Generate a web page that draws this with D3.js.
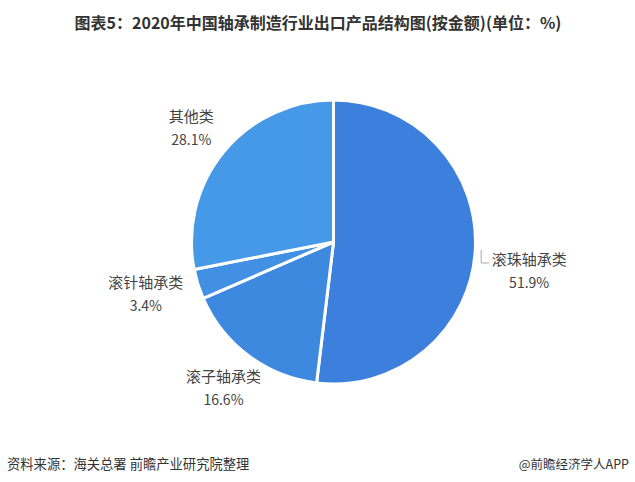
<!DOCTYPE html>
<html><head><meta charset="utf-8">
<script src="https://cdn.jsdelivr.net/npm/d3@7"></script>
<style>
html,body{margin:0;padding:0;background:#fff;}
svg{display:block;font-family:"Microsoft YaHei","Noto Sans CJK SC",sans-serif;}
</style></head>
<body>
<svg id="c" width="635" height="482"></svg>
<script>
const categories = ["滚珠轴承类", "滚子轴承类", "滚针轴承类", "其他类"];
const values = [51.9, 16.6, 3.4, 28.1];
const colors = ["#3c7fdd", "#3e89e0", "#4190e3", "#4699e7"];
const titleText = "图表5：2020年中国轴承制造行业出口产品结构图(按金额)(单位：%)";
const sourceText = "资料来源：海关总署 前瞻产业研究院整理";
const brandText = "@前瞻经济学人APP";

const svg = d3.select("#c");
const cx = 333.5, cy = 242, R = 142;

svg.append("text").attr("x", 318).attr("y", 29).attr("text-anchor", "middle")
  .attr("font-size", 16).attr("font-weight", "bold").attr("fill", "#333")
  .text(titleText);

const data = categories.map((c, i) => ({name: c, value: values[i], color: colors[i]}));
const pie = d3.pie().value(d => d.value).sort(null);
const arcs = pie(data);
const arc = d3.arc().innerRadius(0).outerRadius(R);
const g = svg.append("g").attr("transform", `translate(${cx},${cy})`);
g.selectAll("path").data(arcs).join("path")
  .attr("d", arc).attr("fill", d => d.data.color)
  .attr("stroke", "#fff").attr("stroke-width", 3).attr("stroke-linejoin", "round");

const labelArc = d3.arc().innerRadius(184).outerRadius(184);
const nudge = {"滚珠轴承类": [12, 19], "滚针轴承类": [-12, -2], "其他类": [0, 4]};
arcs.forEach(a => {
  let [x, y] = labelArc.centroid(a);
  const n = nudge[a.data.name] || [0, 0];
  x += n[0]; y += n[1] - 12;
  const t = g.append("text").attr("text-anchor", "middle").attr("font-size", 15).attr("fill", "#444");
  t.append("tspan").attr("x", x).attr("y", y + 5).text(a.data.name);
  t.append("tspan").attr("x", x).attr("y", y + 28).attr("font-size", 14).text(a.data.value.toFixed(1) + "%");
  if (a.data.name === "滚珠轴承类") {
    g.append("path").attr("d", `M${x - 48},${y - 10}L${x - 48},${y + 3}L${x - 40},${y + 3}`)
      .attr("fill", "none").attr("stroke", "#aaa").attr("stroke-width", 1);
  }
});

svg.append("text").attr("x", 7).attr("y", 469).attr("font-size", 13.3).attr("fill", "#333").text(sourceText);
svg.append("text").attr("x", 629).attr("y", 469).attr("text-anchor", "end").attr("font-size", 12.5).attr("fill", "#333").text(brandText);
</script>
</body></html>
